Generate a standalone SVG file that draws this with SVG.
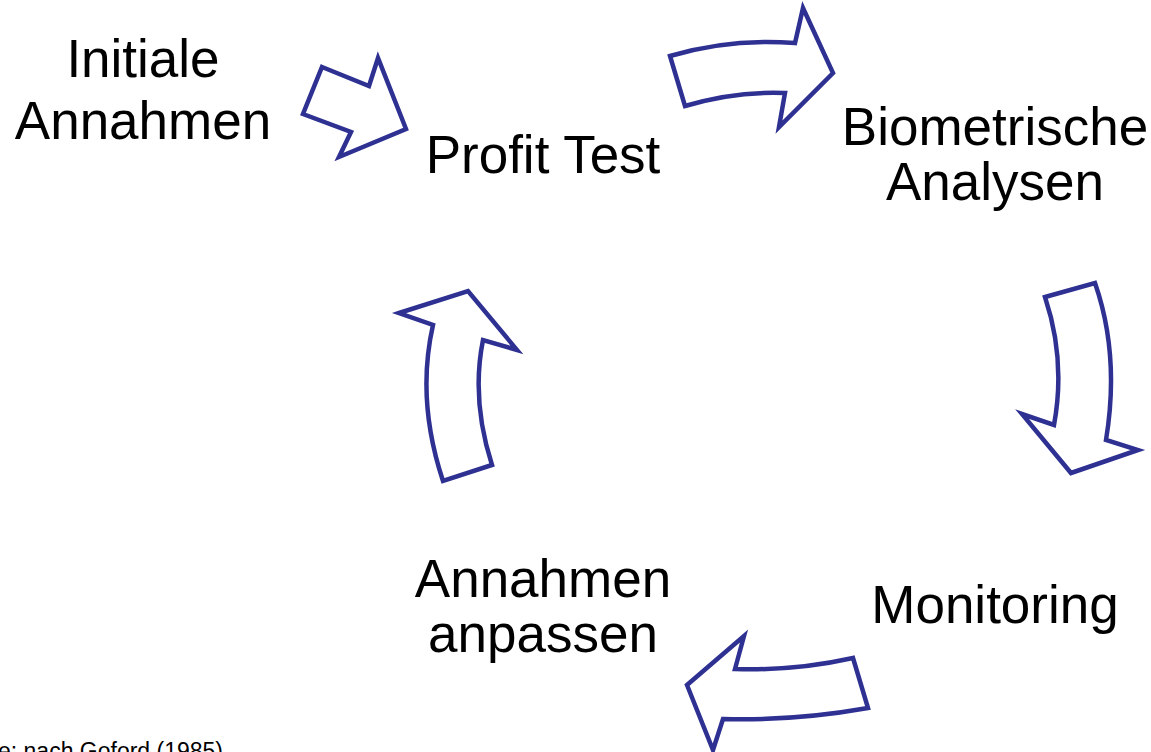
<svg xmlns="http://www.w3.org/2000/svg" width="1151" height="752" viewBox="0 0 1151 752">
<style>
.lbl{font-family:"Liberation Sans",Arial,sans-serif;font-size:53px;fill:#000;text-anchor:middle}
.src{font-family:"Liberation Sans",Arial,sans-serif;font-size:23px;fill:#000;text-anchor:end}
.arr{fill:#fff;stroke:#2E3192;stroke-width:4.5;stroke-linejoin:miter;stroke-miterlimit:10}
</style>
<rect width="1151" height="752" fill="#fff"/>
<g id="node-initiale"><text class="lbl" x="143" y="77">Initiale</text><text class="lbl" x="143" y="139">Annahmen</text></g>
<g id="node-profit"><text class="lbl" x="543" y="173">Profit Test</text></g>
<g id="node-bio"><text class="lbl" x="995" y="145">Biometrische</text><text class="lbl" x="995" y="200">Analysen</text></g>
<g id="node-monitoring"><text class="lbl" x="995" y="623">Monitoring</text></g>
<g id="node-anpassen"><text class="lbl" x="543" y="597">Annahmen</text><text class="lbl" x="543" y="652">anpassen</text></g>
<g id="connectors">
<polygon class="arr" points="322,67 369,86 378,58 406,129 339,157 351,132 303,114"/>
<path class="arr" d="M670,56 Q730,38 795,43 L803,8 L833,73 L779,127 L785,93 Q735,91 685,106 Z"/>
<path class="arr" d="M1045,297 L1095,283 Q1120,355 1106,440 L1138,450 L1071,473 L1022,414 L1054,425 Q1066,360 1045,297 Z"/>
<path class="arr" d="M399,313 L468,291 L517,350 L483,340 Q471,400 492,465 L443,481 Q416,400 433,325 Z"/>
<path class="arr" d="M687,685 L744,636 L735,669 Q795,671 853,658 L868,708 Q795,721 723,719 L713,750 Z"/>
</g>
<text class="src" x="223" y="759">Quelle: nach Goford (1985)</text>
</svg>
